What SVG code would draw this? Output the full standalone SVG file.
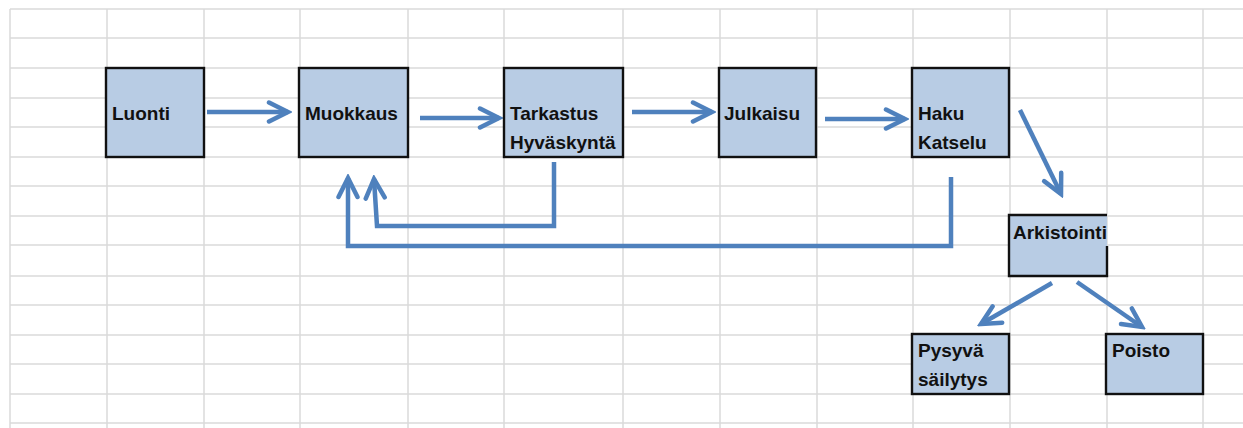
<svg xmlns="http://www.w3.org/2000/svg" width="1243" height="428" viewBox="0 0 1243 428">
  <style>
    .grid line { stroke: #dadada; stroke-width: 1.5; }
    .box { fill: #b8cce4; stroke: #111; stroke-width: 2.4; }
    .label { font-family: "Liberation Sans", Arial, sans-serif; font-weight: bold; font-size: 19px; fill: #111; }
    .flow { fill: none; stroke: #4f81bd; stroke-width: 4.5; stroke-linejoin: miter; }
  </style>
  <defs>
    <marker id="head" markerUnits="userSpaceOnUse" viewBox="-24 -13 28 26" refX="0" refY="0" markerWidth="28" markerHeight="26" orient="auto">
      <path d="M-19,-9.5 L0,0 L-19,9.5" fill="none" stroke="#4f81bd" stroke-width="4.5" stroke-linecap="round"/>
    </marker>
  </defs>
  <rect width="1243" height="428" fill="#fff"/>

  <!-- spreadsheet cell grid -->
  <g class="grid">
    <line x1="10" y1="9" x2="10" y2="428"/>
    <line x1="107" y1="9" x2="107" y2="428"/>
    <line x1="204" y1="9" x2="204" y2="428"/>
    <line x1="300" y1="9" x2="300" y2="428"/>
    <line x1="408" y1="9" x2="408" y2="428"/>
    <line x1="504" y1="9" x2="504" y2="428"/>
    <line x1="623" y1="9" x2="623" y2="428"/>
    <line x1="720" y1="9" x2="720" y2="428"/>
    <line x1="817" y1="9" x2="817" y2="428"/>
    <line x1="913" y1="9" x2="913" y2="428"/>
    <line x1="1010" y1="9" x2="1010" y2="428"/>
    <line x1="1107" y1="9" x2="1107" y2="428"/>
    <line x1="1203" y1="9" x2="1203" y2="428"/>
    <line x1="10" y1="9" x2="1243" y2="9"/>
    <line x1="10" y1="38" x2="1243" y2="38"/>
    <line x1="10" y1="68" x2="1243" y2="68"/>
    <line x1="10" y1="98" x2="1243" y2="98"/>
    <line x1="10" y1="127" x2="1243" y2="127"/>
    <line x1="10" y1="157" x2="1243" y2="157"/>
    <line x1="10" y1="186" x2="1243" y2="186"/>
    <line x1="10" y1="216" x2="1243" y2="216"/>
    <line x1="10" y1="245" x2="1243" y2="245"/>
    <line x1="10" y1="276" x2="1243" y2="276"/>
    <line x1="10" y1="305" x2="1243" y2="305"/>
    <line x1="10" y1="335" x2="1243" y2="335"/>
    <line x1="10" y1="364" x2="1243" y2="364"/>
    <line x1="10" y1="394" x2="1243" y2="394"/>
    <line x1="10" y1="423" x2="1243" y2="423"/>
  </g>

  <!-- connectors -->
  <g id="connectors">
    <path class="flow" d="M207,112 H288" marker-end="url(#head)"/>
    <path class="flow" d="M420,118 H499" marker-end="url(#head)"/>
    <path class="flow" d="M632,112 H712" marker-end="url(#head)"/>
    <path class="flow" d="M825,119 H905" marker-end="url(#head)"/>
    <path class="flow" d="M1020,110 L1061,194" marker-end="url(#head)"/>
    <path class="flow" d="M1052,283 L981,324" marker-end="url(#head)"/>
    <path class="flow" d="M1077,282 L1142,327" marker-end="url(#head)"/>
    <path class="flow" d="M554,162 V226 H377 L374,179" marker-end="url(#head)"/>
    <path class="flow" d="M951,177 V246 H348 V178" marker-end="url(#head)"/>
  </g>

  <!-- process steps -->
  <g id="luonti">
    <rect class="box" x="106" y="68" width="98" height="89"/>
    <text class="label" x="112" y="120">Luonti</text>
  </g>
  <g id="muokkaus">
    <rect class="box" x="299" y="68" width="109" height="89"/>
    <text class="label" x="305" y="120">Muokkaus</text>
  </g>
  <g id="tarkastus">
    <rect class="box" x="504" y="68" width="119" height="89"/>
    <text class="label" x="510" y="120">Tarkastus</text>
    <text class="label" x="510" y="149">Hyväskyntä</text>
  </g>
  <g id="julkaisu">
    <rect class="box" x="719" y="68" width="97" height="89"/>
    <text class="label" x="724" y="120">Julkaisu</text>
  </g>
  <g id="haku">
    <rect class="box" x="912" y="68" width="97" height="89"/>
    <text class="label" x="918" y="120">Haku</text>
    <text class="label" x="918" y="149">Katselu</text>
  </g>
  <g id="arkistointi">
    <rect x="1009" y="215" width="98" height="61" fill="#b8cce4"/>
    <path d="M1107,215 H1009 V276 H1107 V246" fill="none" stroke="#111" stroke-width="2.4"/>
    <text class="label" x="1013" y="239">Arkistointi</text>
  </g>
  <g id="pysyva">
    <rect class="box" x="912" y="334" width="97" height="60"/>
    <text class="label" x="918" y="357">Pysyvä</text>
    <text class="label" x="918" y="386">säilytys</text>
  </g>
  <g id="poisto">
    <rect class="box" x="1106" y="334" width="97" height="60"/>
    <text class="label" x="1112" y="357">Poisto</text>
  </g>
</svg>
